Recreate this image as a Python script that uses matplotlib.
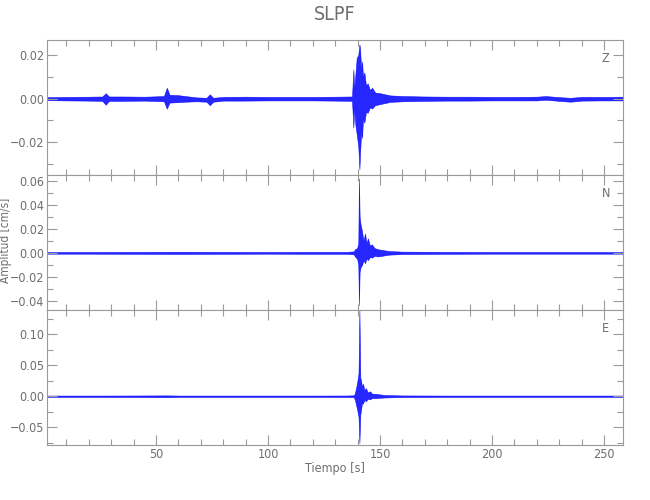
import matplotlib
matplotlib.use('Agg')
import matplotlib.pyplot as plt
from matplotlib.ticker import MultipleLocator, FuncFormatter

plt.rcParams['font.family'] = ['DejaVu Sans']
plt.rcParams['font.stretch'] = 'condensed'
plt.rcParams['font.weight'] = 'light'

GREY = '#6e6e6e'
AXGREY = '#9a9a9a'
BLUE = '#0000ff'

# envelope of each trace (upper / lower), cm/s
t_z = [1.3, 10, 20, 26, 27.5, 29, 35, 45, 53.5, 54.8, 56, 60, 63, 68, 72.5,
       74, 75.5, 80, 90, 100, 110, 120, 130, 137.5, 138.1, 138.5, 139.0,
       139.6, 140.3, 140.8, 141.1, 141.6, 142.0, 142.4, 143.0, 143.75,
       144.5, 145.5, 146.5, 147.8, 150, 154.5,
       160, 170, 180, 190, 200, 210, 220, 224, 230, 235, 240, 250, 258.5]
up_z = [0.0007, 0.0008, 0.0009, 0.0010, 0.0025, 0.0010, 0.0010, 0.0009,
        0.0012, 0.0050, 0.0018, 0.0016, 0.0012, 0.0006, 0.0004,
        0.0020, 0.0004, 0.0008, 0.0009, 0.0008, 0.0008, 0.0008, 0.0009,
        0.0010, 0.0134, 0.0040, 0.0110,
        0.0188, 0.0200, 0.0249, 0.0230, 0.0130, 0.0170, 0.0100, 0.0120,
        0.0060, 0.0070, 0.0040, 0.0050, 0.0028, 0.0025, 0.0015,
        0.0012, 0.0010, 0.0009, 0.0009, 0.0008, 0.0008, 0.0009, 0.0012,
        0.0007, 0.0004, 0.0008, 0.0008, 0.0009]
lo_z = [-0.0007, -0.0008, -0.0009, -0.0010, -0.0028, -0.0010, -0.0010,
        -0.0009, -0.0012, -0.0046, -0.0018, -0.0016, -0.0014, -0.0012,
        -0.0014, -0.0030, -0.0014, -0.0009, -0.0009, -0.0008, -0.0008,
        -0.0008, -0.0009, -0.0010, -0.0133, -0.0040, -0.0120,
        -0.0163, -0.0220, -0.0324, -0.0250, -0.0150, -0.0180, -0.0090,
        -0.0110, -0.0060, -0.0065, -0.0040, -0.0045, -0.0030, -0.0025,
        -0.0015,
        -0.0012, -0.0010, -0.0009, -0.0009, -0.0008, -0.0008, -0.0008,
        -0.0005, -0.0010, -0.0014, -0.0009, -0.0008, -0.0008]

t_n = [1.3, 20, 40, 60, 80, 100, 120, 135, 138.3, 138.8, 139.8, 140.3,
       140.6, 140.9, 141.3, 142, 142.6, 143.3, 144.0, 144.6, 145.5, 146.4,
       147.5, 149, 154, 160, 180, 200, 220, 240, 258.5]
up_n = [0.0007, 0.0007, 0.0008, 0.0009, 0.0008, 0.0007, 0.0008, 0.0008,
        0.0012, 0.0030, 0.0040, 0.0080,
        0.0617, 0.0300, 0.0240, 0.0174, 0.0100, 0.0160, 0.0080, 0.0120,
        0.0060, 0.0070, 0.0040, 0.0030, 0.0015, 0.0010, 0.0008,
        0.0007, 0.0007, 0.0007, 0.0007]
lo_n = [-0.0007, -0.0007, -0.0008, -0.0009, -0.0008, -0.0007, -0.0008,
        -0.0008, -0.0012, -0.0030, -0.0050, -0.0100,
        -0.0434, -0.0160, -0.0120, -0.0100, -0.0060, -0.0086, -0.0045,
        -0.0060, -0.0035, -0.0040, -0.0025, -0.0030, -0.0015, -0.0010,
        -0.0008, -0.0007, -0.0007, -0.0007, -0.0007]

t_e = [1.3, 20, 40, 55, 60, 80, 100, 120, 135, 138.3, 138.8, 139.7, 140.4,
       140.8, 141.2, 141.5, 142.0, 142.4, 143.0, 143.75, 144.5, 145.5,
       146.5, 147.8, 152, 160, 180, 200, 220, 240, 258.5]
up_e = [0.0011, 0.0011, 0.0012, 0.0014, 0.0011, 0.0011, 0.0011, 0.0011,
        0.0012, 0.0015, 0.0050, 0.0200, 0.0370,
        0.1390, 0.0300, 0.0260, 0.0150, 0.0200, 0.0100, 0.0130, 0.0060,
        0.0080, 0.0040, 0.0040, 0.0020, 0.0013, 0.0011, 0.0011,
        0.0011, 0.0011, 0.0011]
lo_e = [-0.0011, -0.0011, -0.0012, -0.0016, -0.0011, -0.0011, -0.0011,
        -0.0011, -0.0012, -0.0015, -0.0060, -0.0200, -0.0330,
        -0.0757, -0.0300, -0.0225, -0.0100, -0.0120, -0.0060, -0.0080,
        -0.0040, -0.0050, -0.0030, -0.0030, -0.0020, -0.0013, -0.0011,
        -0.0011, -0.0011, -0.0011, -0.0011]

components = ['Z', 'N', 'E']
ylims = [(-0.035, 0.0269), (-0.0475, 0.0647), (-0.0786, 0.139)]
ymajor = [0.02, 0.02, 0.05]
yminor = [0.01, 0.01, 0.025]
traces = [(t_z, up_z, lo_z), (t_n, up_n, lo_n), (t_e, up_e, lo_e)]


def fmt_amp(v, pos):
    s = '%.2f' % v
    if s == '-0.00':
        s = '0.00'
    return s.replace('-', '\u2212')


fig = plt.figure(figsize=(6.5, 5), dpi=100)
left, width, h = 47 / 650, 576 / 650, 135 / 500
bottoms = [1 - 175 / 500, 1 - 310 / 500, 1 - 445 / 500]

for i, comp in enumerate(components):
    ax = fig.add_axes([left, bottoms[i], width, h])
    t, up, lo = traces[i]
    ax.fill_between(t, lo, up, color=BLUE, lw=0.4, alpha=0.85)
    ax.set_xlim(1.3, 258.5)
    ax.set_ylim(*ylims[i])
    ax.xaxis.set_major_locator(MultipleLocator(50))
    ax.xaxis.set_minor_locator(MultipleLocator(10))
    ax.yaxis.set_major_locator(MultipleLocator(ymajor[i]))
    ax.yaxis.set_minor_locator(MultipleLocator(yminor[i]))
    ax.yaxis.set_major_formatter(FuncFormatter(fmt_amp))
    ax.tick_params(which='both', direction='in', top=True, right=True,
                   color=AXGREY, labelcolor=GREY, labelsize=9, width=0.8)
    ax.tick_params(which='major', length=7, pad=2)
    ax.tick_params(which='minor', length=4)
    for s in ax.spines.values():
        s.set_color(AXGREY)
        s.set_linewidth(0.8)
    if i < 2:
        ax.tick_params(labelbottom=False)
    else:
        ax.set_xlabel('Tiempo [s]', color=GREY, fontsize=9, labelpad=1)
    ax.text(0.97, 0.86, comp, transform=ax.transAxes, color=GREY,
            fontsize=9, ha='center', va='center')

fig.text(6 / 650, 1 - 240 / 500, 'Amplitud [cm/s]', color=GREY,
         fontsize=8.5, rotation=90, ha='center', va='center')
fig.text(335 / 650, 1 - 15 / 500, 'SLPF', color=GREY, fontsize=14,
         ha='center', va='center')

fig.savefig('out.png', dpi=100)
